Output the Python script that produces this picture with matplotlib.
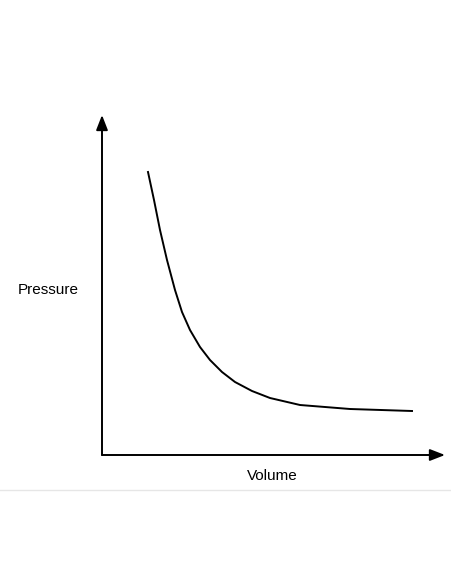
import matplotlib.pyplot as plt

# curve readings (arbitrary units, origin at axes corner)
volume = [46, 52, 58, 65, 73, 80, 88, 98, 108, 120, 133, 150, 168, 198, 248, 310]
pressure = [283, 255, 225, 195, 165, 143, 125, 108, 95, 83, 73, 64, 57, 50, 46, 44]

fig = plt.figure(figsize=(4.52, 5.84), dpi=100)
ax = fig.add_axes([102 / 452, 1 - 455 / 584, 343 / 452, 340 / 584])
ax.set_xlim(0, 343)
ax.set_ylim(0, 340)
ax.axis('off')

ax.plot(volume, pressure, color='black', lw=1.4)

# axes drawn as arrows
arrow = dict(arrowstyle='-|>,head_length=0.9,head_width=0.35', color='black', lw=1.4,
             shrinkA=0, shrinkB=0)
ax.annotate('', xy=(0, 340), xytext=(0, 0), arrowprops=arrow, annotation_clip=False)
ax.annotate('', xy=(343, 0), xytext=(0, 0), arrowprops=arrow, annotation_clip=False)

font = ['Liberation Sans Narrow', 'Liberation Sans', 'DejaVu Sans']
fig.text(48 / 452, 1 - 290 / 584, 'Pressure', ha='center', va='center', fontsize=11, family=font)
fig.text(272 / 452, 1 - 476 / 584, 'Volume', ha='center', va='center', fontsize=11, family=font)

# faint page edge near the bottom
fig.add_artist(plt.Line2D([0, 1], [1 - 490 / 584] * 2, color='#e6e6e6', lw=1))

fig.savefig('out.png', dpi=100)
